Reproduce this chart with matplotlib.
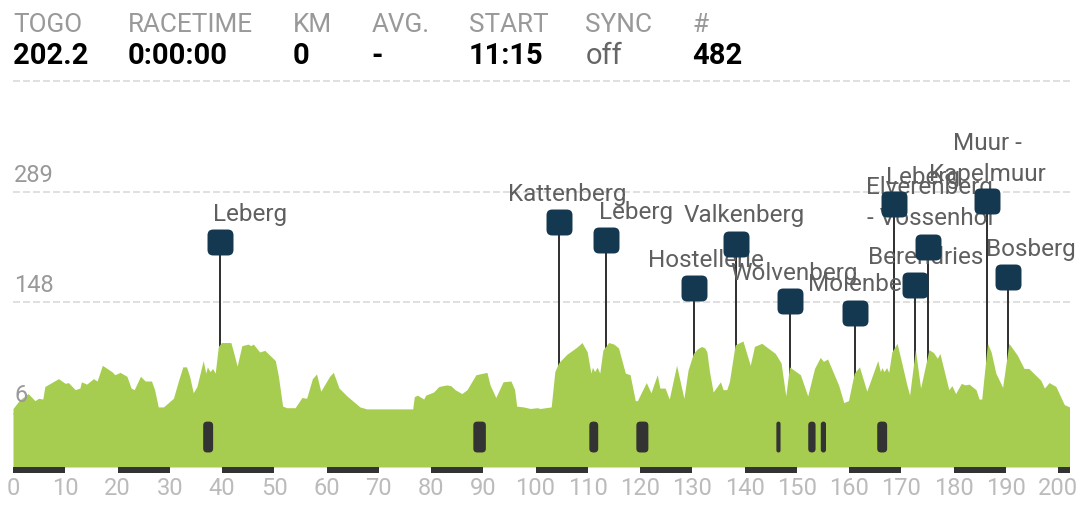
#!/usr/bin/env python3
# race profile chart: elevation over km, with climbs and cobbled sections
import matplotlib
matplotlib.use('Agg')
import matplotlib.pyplot as plt
from matplotlib.patches import BoxStyle, FancyBboxPatch

plt.rcParams['font.family'] = ['Roboto', 'DejaVu Sans']

HEADER_LABELS = ['TOGO', 'RACETIME', 'KM', 'AVG.', 'START', 'SYNC', '#']
HEADER_VALUES = ['202.2', '0:00:00', '0', '-', '11:15', 'off', '482']

KM = [0, 1.3, 2.9, 4.2, 4.9, 5.7, 6.1, 8.7, 10, 10.6, 11.9, 12.8, 13.1, 14.1, 15.4, 16.1, 17.1, 18.9, 19.5,
      20.5, 21.8, 22.6, 23.2, 24.4, 25.3, 26.5, 27.1, 27.8, 28.8, 30.7, 31.7, 32.5, 33.2, 33.8, 34.5, 35.2,
      36.4, 36.9, 37.2, 37.7, 38.2, 38.7, 39.3, 39.9, 41.7, 42.2, 42.9, 43.8, 45, 45.5, 46, 47.2, 48.2, 50.2, 50.8,
      51.6, 52.4, 54, 55.3, 56.2, 57.3, 58.1, 58.9, 60.6, 61.3, 62.4, 63.9, 66.4,
      67.7, 76.5, 76.8, 77.4, 78.6, 79, 80.5, 81.5, 83, 83.8, 84.6, 85.9, 86.9, 88.6, 90.7, 91.3, 92.4, 93.8,
      95.3, 96, 96.4, 97.7, 99, 100.3, 100.9, 103, 103.7, 104.4, 106, 107.9, 108.9, 109.9, 110.6, 110.9,
      111.3, 111.8, 112.3, 112.9, 114, 115, 115.9, 116.5, 117.2, 118.1, 119.1, 119.5, 121.2, 122.1, 123.3, 123.8, 124.8,
      125.6, 127, 128.4, 129.2, 130.2, 131, 131.8, 132.4, 132.8, 133.3, 134, 135.4,
      135.9, 136.6, 137.1, 138.2, 139.7, 141.1, 141.9, 143.3, 145.9, 147, 147.9, 148.6, 150.7, 152.1, 153.4,
      154.5, 155.1, 155.9, 158, 159, 159.9, 161, 162, 163.4, 165.5, 166, 166.3, 166.7, 167.2, 167.6, 168.2,
      169.2, 170.1, 171, 171.6, 172.7, 173.7, 175.3, 176.2, 176.9, 177.4, 179.1, 179.7, 180.4, 181.5, 182.2, 183, 184.3,
      184.9, 185.4, 186.5, 187.2, 188.1, 189.4, 190.6, 192.2, 193.5, 194.4, 196.7, 197.4, 198.3, 199.6,
      201.2, 202.2]
ELEV = [13, 24, 32, 23, 26, 25, 41, 51, 45, 46, 37, 39, 47, 44, 51, 48, 68, 60, 56,
        59, 54, 39, 37, 54, 48, 48, 37, 15, 15, 26, 49, 66, 66, 54, 33, 41,
        74, 58, 66, 60, 64, 58, 92, 97, 97, 85, 67, 93, 95, 93, 95, 85, 87, 74, 54,
        16, 14, 14, 27, 26, 51, 57, 35, 54, 59, 39, 29, 15,
        12.5, 12.5, 28, 30, 25, 30, 34, 41, 43, 42, 37, 32, 37, 56, 59, 43, 27, 47,
        48, 37, 16, 15, 13, 14, 13, 15, 60, 71, 82, 91, 97, 85, 58, 65.5,
        60, 65.5, 58, 87.5, 97, 95, 90, 75, 58, 56, 23, 23, 46, 33, 56, 39, 39,
        25, 68, 26, 62, 83, 89, 92, 90, 85, 60, 34, 47,
        37, 37, 47, 94, 99, 68, 92, 96, 83, 71, 29, 66, 56, 29, 64,
        78, 73, 76, 43, 20.5, 23, 58, 66, 35, 74, 60, 65, 60, 65, 59, 85,
        96, 71, 45, 30, 88, 39, 88, 84, 77, 83, 37, 42, 32, 45, 43, 44, 37,
        25, 25, 96, 85, 58, 40, 96, 81, 64, 64, 49, 39, 46, 41,
        18, 15]

CLIMB_NAMES = ['Leberg', 'Kattenberg', 'Leberg', 'Hostellerie', 'Valkenberg', 'Wolvenberg', 'Molenberg',
               'Leberg', 'Berendries', 'Elverenberg\n- Vossenhol', 'Muur -\nKapelmuur', 'Bosberg']
CLIMB_KM = [39.6, 104.5, 113.5, 130.3, 138.3, 148.7, 161.1, 168.6, 172.6, 175.1, 186.4, 190.5]
CLIMB_FLAG = [225, 250, 228, 166, 222, 150, 135, 273, 170, 219, 277, 180]

COBBLE_START = [36.4, 88.1, 110.3, 119.3, 146.1, 152.2, 154.6, 165.4]
COBBLE_END = [38.3, 90.5, 112.0, 121.6, 146.9, 153.6, 155.6, 167.3]
COBBLE_LOW, COBBLE_HIGH = -43, -3.7

GRID_VALUES = [6, 148, 289, 430]
GRID_LABELS = ['6', '148', '289', '']
KM_TICKS = list(range(0, 201, 10))
SCALE_BAR_STARTS = [0, 20, 40, 60, 80, 100, 120, 140, 160, 180, 200]
RACE_KM = 202.2
ELEV_BASE = -61.5
ELEV_TOP = 430

W, H = 1080, 528
GREEN = '#a6cd50'
DARK = '#333333'
NAVY = '#14384f'

fig = plt.figure(figsize=(W / 100, H / 100), dpi=100)
ax = fig.add_axes([13 / W, (H - 467) / H, (1069.5 - 13) / W, (467 - 81) / H])
ax.set_xlim(0, RACE_KM)
ax.set_ylim(ELEV_BASE, ELEV_TOP)
for s in ax.spines.values():
    s.set_visible(False)
ax.patch.set_alpha(0)

# header row
header_x = [13.5, 127.5, 292.5, 371.5, 468.5, 585.5, 692.5]
for x, lab, val in zip(header_x, HEADER_LABELS, HEADER_VALUES):
    fig.text(x / W, 1 - 32 / H, lab, fontsize=18.8, color='#999999', va='baseline')
    if val == 'off':
        fig.text(x / W, 1 - 64 / H, val, fontsize=21, color='#666666', va='baseline')
    else:
        fig.text(x / W, 1 - 64 / H, val, fontsize=21, color='black', fontweight='bold', va='baseline')

# dashed grid + elevation labels
ax.hlines(GRID_VALUES, 0, RACE_KM, color='#e0e0e0', lw=1.44, linestyle=(0, (3.5, 1.5)), zorder=1, clip_on=False)
label_lift = [12, 10, 10, 0]
for v, lab, lift in zip(GRID_VALUES, GRID_LABELS, label_lift):
    ax.annotate(lab, (0, v), xytext=(1, lift), textcoords='offset pixels', fontsize=17, color='#999999',
                va='baseline', zorder=6)

# climb stems sit behind the profile
ax.vlines(CLIMB_KM, ELEV_BASE, CLIMB_FLAG, color=DARK, lw=1.44, zorder=2)
ax.fill_between(KM, ELEV, ELEV_BASE, color=GREEN, lw=0, zorder=3)

# cobbled sections, rounded in pixels
y_per_x = (1.273) / (1 / 5.225)
for a, b in zip(COBBLE_START, COBBLE_END):
    r = min((b - a) / 2, 0.75)
    ax.add_patch(FancyBboxPatch((a, COBBLE_LOW), b - a, COBBLE_HIGH - COBBLE_LOW,
                                boxstyle='round,pad=0,rounding_size=%g' % r, mutation_aspect=y_per_x,
                                fc=DARK, ec='none', zorder=4))

# alternating 10 km scale bar under the profile
bar_h = 6 * 1.273
ax.bar(SCALE_BAR_STARTS, [bar_h] * len(SCALE_BAR_STARTS), width=[min(10, RACE_KM - s) for s in SCALE_BAR_STARTS],
       bottom=ELEV_BASE - bar_h, align='edge', color=DARK, lw=0, clip_on=False, zorder=4)

ax.set_xticks(KM_TICKS)
ax.set_xticklabels([str(k) for k in KM_TICKS], fontsize=17, color='#bbbbbb')
ax.tick_params(axis='x', length=0, pad=7)
ax.set_yticks([])

# climb labels, then flags on top (offsets in pixels)
label_dx = [30, 8, 30, 12, 9, 4, 11, 29, 11, 2, 0, 23]
label_dy = [27, 28, 27, 28, 29, 27, 28, 27, 28, 44, 42, 28]
for name, km, fl, dx, dy in zip(CLIMB_NAMES, CLIMB_KM, CLIMB_FLAG, label_dx, label_dy):
    ax.annotate(name, (km, fl), xytext=(dx, dy), textcoords='offset pixels', fontsize=17.5, color='#5f5f5f',
                ha='center', va='center', linespacing=1.45, zorder=5, annotation_clip=False)

flag = BoxStyle.Round(pad=0, rounding_size=0.22)(-0.5, -0.5, 1, 1, 1)
ax.plot(CLIMB_KM, CLIMB_FLAG, ls='none', marker=flag, ms=18.7, mfc=NAVY, mec='none', zorder=7, clip_on=False)

fig.savefig('out.png', dpi=100)
